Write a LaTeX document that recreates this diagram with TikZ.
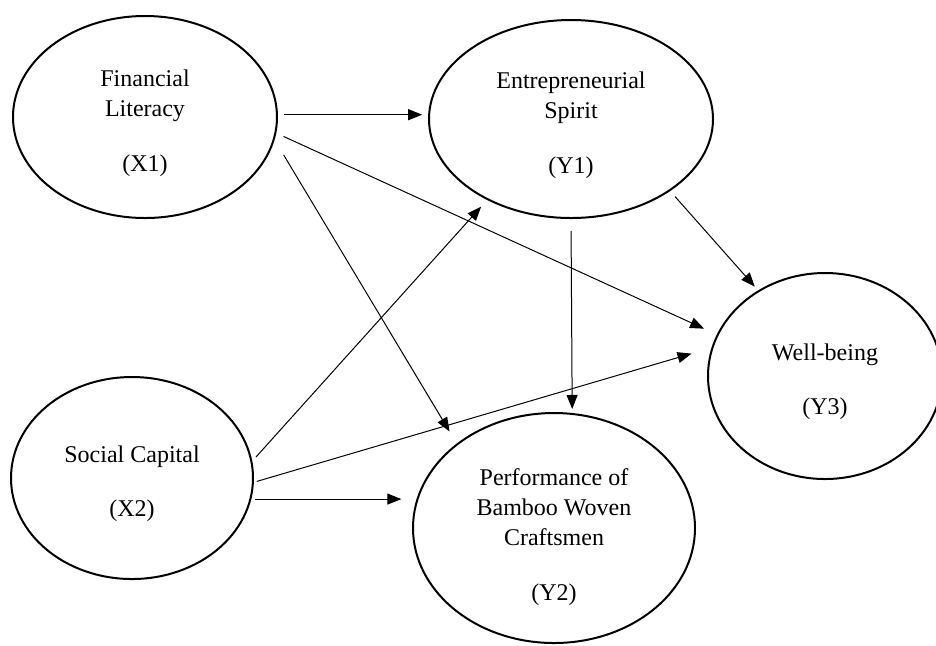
\documentclass[tikz,border=0pt]{standalone}
\usepackage{fontspec}
\setmainfont{Liberation Serif}
\usetikzlibrary{arrows.meta, shapes.geometric}

\begin{document}
\begin{tikzpicture}[x=0.5pt, y=-0.5pt,
  construct/.style={ellipse, draw, line width=1pt, inner sep=0pt},
  caption/.style={align=center, inner sep=0pt, yshift=-3pt,
    font=\fontsize{12}{15}\selectfont},
  link/.style={-{Triangle[length=7pt,width=5.5pt]}, line width=0.5pt}]
  \useasboundingbox (0,0) rectangle (936,645);
  \node[construct, minimum width=132pt, minimum height=101pt,
    label={[caption]center:{Financial\\Literacy\\[12.5pt](X1)}}] (x1) at (145,117) {};
  \node[construct, minimum width=142pt, minimum height=99pt,
    label={[caption]center:{Entrepreneurial\\Spirit\\[12.5pt](Y1)}}] (y1) at (571,119) {};
  \node[construct, minimum width=117pt, minimum height=103pt,
    label={[caption]center:{Well-being\\[12pt](Y3)}}] (y3) at (825,376) {};
  \node[construct, minimum width=121pt, minimum height=101pt,
    label={[caption]center:{Social Capital\\[12pt](X2)}}] (x2) at (132,478) {};
  \node[construct, minimum width=141pt, minimum height=115pt,
    label={[caption, yshift=-1.5pt]center:{Performance of\\Bamboo Woven\\Craftsmen\\[12.5pt](Y2)}}] (y2) at (554,528) {};
  \foreach \from/\to/\gs/\ge in {
    x1.1/x1.1 -| y1.178/3/3,
    x1.353.6/y3.159.7/4/7,
    x1.350.8/y2.139.4/8.75/7,
    x2.8.1/y1.224/2.75/4.5,
    x2.358.8/y3.166.7/1.5/10.4,
    x2.350.9/x2.350.9 -| y2.167.6/2/8,
    y1.270/y2.81.5/6/2,
    y1.324.9/y3.128.9/3.7/2.5
  } {
    \draw[link, shorten <=\gs pt, shorten >=\ge pt] (\from) -- (\to);
  }
\end{tikzpicture}
\end{document}
